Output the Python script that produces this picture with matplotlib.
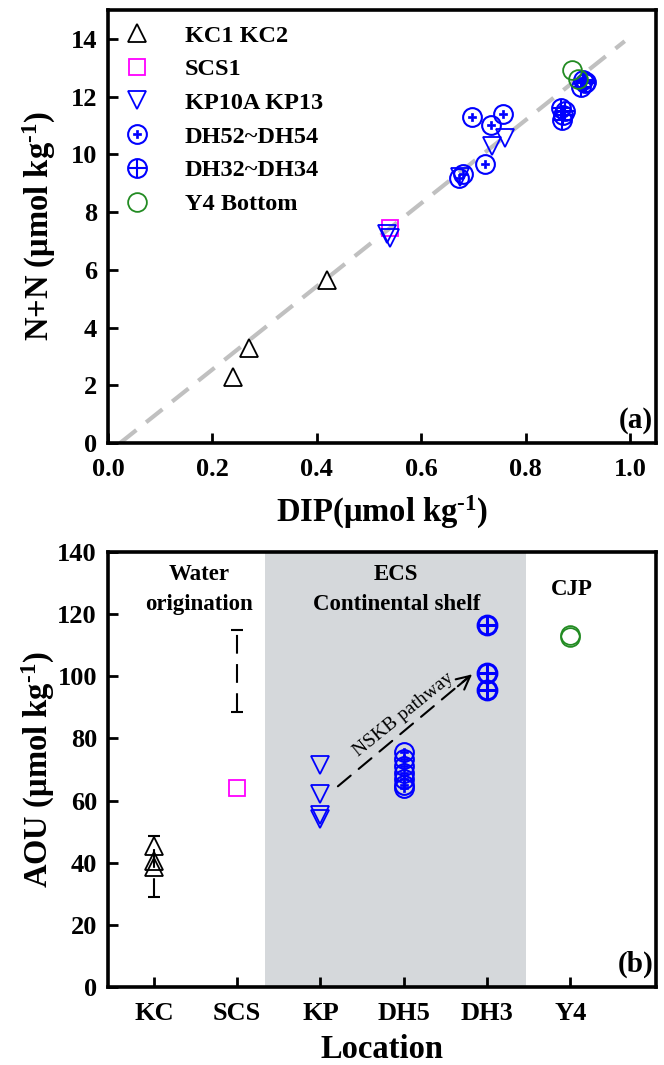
import matplotlib
matplotlib.use('Agg')
import matplotlib.pyplot as plt
from matplotlib.legend_handler import HandlerTuple

plt.rcParams['font.family'] = ['Liberation Serif', 'DejaVu Serif']
plt.rcParams['font.weight'] = 'bold'
plt.rcParams['mathtext.fontset'] = 'custom'
plt.rcParams['mathtext.rm'] = 'Liberation Serif:bold'
plt.rcParams['mathtext.bf'] = 'Liberation Serif:bold'
plt.rcParams['mathtext.default'] = 'bf'

# ---- panel (a) data: DIP vs N+N ----
kc_dip = [0.24, 0.27, 0.42]
kc_nn = [2.3, 3.3, 5.65]
scs_dip = [0.54]
scs_nn = [7.45]
kp_dip = [0.535, 0.54, 0.675, 0.736, 0.76]
kp_nn = [7.25, 7.1, 9.23, 10.29, 10.56]
dh5_dip = [0.698, 0.733, 0.757, 0.722, 0.672, 0.680]
dh5_nn = [11.28, 11.02, 11.39, 9.66, 9.17, 9.32]
dh3_dip = [0.868, 0.871, 0.870, 0.875, 0.910, 0.913, 0.906, 0.915]
dh3_nn = [11.6, 11.37, 11.2, 11.5, 12.58, 12.47, 12.35, 12.5]
y4_dip = [0.889, 0.900]
y4_nn = [12.93, 12.61]
fit_x = [0.023, 0.99]
fit_y = [0.0, 13.92]

# ---- panel (b) data: AOU by location ----
locations = ['KC', 'SCS', 'KP', 'DH5', 'DH3', 'Y4']
loc_pos = [1, 2, 3, 4, 5, 6]
kc_aou = [45.5, 40.5, 38.5]
scs_aou = [64]
kp_aou = [71.5, 62, 55.5, 54]
dh5_aou = [75.5, 73.5, 71, 69, 67, 65, 64]
dh3_aou = [116.5, 101, 95.5]
y4_aou = [113.2, 112.5]
kc_range = [29, 48.5]
scs_range = [88.5, 115]

blue = '#0000ff'
green = '#228b22'
magenta = '#ff00ff'

fig = plt.figure(figsize=(6.64, 10.65), dpi=100)
ax1 = fig.add_axes([0.1627, 0.584, 0.8253, 0.4066])
ax2 = fig.add_axes([0.1627, 0.0732, 0.8253, 0.4085])

def circ_plus(ax, x, y, big, ms=13.5, mew=1.5):
    c, = ax.plot(x, y, 'o', ms=ms, mfc='none', mec=blue, mew=mew, ls='none')
    if big:
        p, = ax.plot(x, y, '+', ms=ms, mec=blue, mew=mew, ls='none')
    else:
        p, = ax.plot(x, y, 'P', ms=ms * 0.45, mfc=blue, mec=blue, mew=0.5, ls='none')
    return (c, p)

unit = r'($\mu$mol kg$^{\text{-1}}$)'

# panel (a)
ax1.plot(fit_x, fit_y, ls=(0, (5, 3)), color='#c0c0c0', lw=3, zorder=1)
h_kc, = ax1.plot(kc_dip, kc_nn, '^', ms=13, mfc='none', mec='k', mew=1.3, ls='none')
h_scs, = ax1.plot(scs_dip, scs_nn, 's', ms=11.5, mfc='none', mec=magenta, mew=1.3, ls='none')
h_kp, = ax1.plot(kp_dip, kp_nn, 'v', ms=13, mfc='none', mec=blue, mew=1.3, ls='none')
h_dh5 = circ_plus(ax1, dh5_dip, dh5_nn, big=False)
h_dh3 = circ_plus(ax1, dh3_dip, dh3_nn, big=True)
h_y4, = ax1.plot(y4_dip, y4_nn, 'o', ms=13.5, mfc='none', mec=green, mew=1.3, ls='none')

ax1.set_xlim(0, 1.05)
ax1.set_ylim(0, 15)
ax1.set_xticks([0.0, 0.2, 0.4, 0.6, 0.8, 1.0])
ax1.set_xticklabels(['0.0', '0.2', '0.4', '0.6', '0.8', '1.0'])
ax1.set_yticks(range(0, 15, 2))
ax1.set_xlabel('DIP' + unit, fontsize=23.5, fontweight='bold', labelpad=9)
ax1.set_ylabel('N+N ' + unit, fontsize=23.5, fontweight='bold', labelpad=9)
ax1.text(0.995, 0.02, '(a)', transform=ax1.transAxes, ha='right', va='bottom',
         fontsize=21, fontweight='bold')
leg = ax1.legend([h_kc, h_scs, h_kp, h_dh5, h_dh3, h_y4],
                 ['KC1 KC2', 'SCS1', 'KP10A KP13', 'DH52~DH54', 'DH32~DH34', 'Y4 Bottom'],
                 handler_map={tuple: HandlerTuple(ndivide=1)},
                 loc='upper left', frameon=False, handlelength=1.2,
                 handletextpad=1.35, labelspacing=0.48, borderaxespad=0.2,
                 borderpad=0.4, prop={'weight': 'bold', 'size': 17.5})

# panel (b)
ax2.axvspan(2.34, 5.47, color='#d5d8db', lw=0, zorder=0)
for rng, xp in [(kc_range, loc_pos[0]), (scs_range, loc_pos[1])]:
    mid = (rng[0] + rng[1]) / 2
    err = (rng[1] - rng[0]) / 2
    eb = ax2.errorbar([xp], [mid], yerr=[err], fmt='none', ecolor='k',
                      elinewidth=1.5, capsize=4, capthick=1.5)
    eb[2][0].set_linestyle((0, (9, 5)))
ax2.plot([loc_pos[0]] * len(kc_aou), kc_aou, '^', ms=13, mfc='none', mec='k', mew=1.3, ls='none')
ax2.plot([loc_pos[1]] * len(scs_aou), scs_aou, 's', ms=11.5, mfc='none', mec=magenta, mew=1.3, ls='none')
ax2.plot([loc_pos[2]] * len(kp_aou), kp_aou, 'v', ms=13, mfc='none', mec=blue, mew=1.3, ls='none')
circ_plus(ax2, [loc_pos[3]] * len(dh5_aou), dh5_aou, big=False)
circ_plus(ax2, [loc_pos[4]] * len(dh3_aou), dh3_aou, big=True, mew=2.2)
ax2.plot([loc_pos[5]] * len(y4_aou), y4_aou, 'o', ms=13.5, mfc='none', mec=green, mew=1.3, ls='none')

# NSKB pathway arrow: dashed shaft + solid open head
ax2.annotate('', xy=(4.80, 100.2), xytext=(3.21, 64.6),
             arrowprops=dict(arrowstyle='-', color='k', lw=1.5, ls=(0, (8, 5)),
                             shrinkA=0, shrinkB=0))
ax2.annotate('', xy=(4.82, 100.6), xytext=(4.65, 96.8),
             arrowprops=dict(arrowstyle='->', color='k', lw=1.5,
                             mutation_scale=24, shrinkA=0, shrinkB=0))
ax2.text(4.0, 87.7, 'NSKB pathway', rotation=39, ha='center', va='center',
         fontsize=14, fontweight='normal')
ax2.text(1.54, 128, 'Water\norigination', ha='center', va='center', fontsize=16.5,
         fontweight='bold', linespacing=1.55)
ax2.text(3.91, 128, 'ECS\nContinental shelf', ha='center', va='center', fontsize=16.5,
         fontweight='bold', linespacing=1.55)
ax2.text(6.02, 128, 'CJP', ha='center', va='center', fontsize=16.5, fontweight='bold')
ax2.text(0.995, 0.02, '(b)', transform=ax2.transAxes, ha='right', va='bottom',
         fontsize=21, fontweight='bold')

ax2.set_xlim(0.45, 7.03)
ax2.set_ylim(0, 140)
ax2.set_xticks(loc_pos)
ax2.set_xticklabels(locations)
ax2.set_yticks(range(0, 141, 20))
ax2.set_xlabel('Location', fontsize=23.5, fontweight='bold', labelpad=6)
ax2.set_ylabel('AOU ' + unit, fontsize=23.5, fontweight='bold', labelpad=0)

for ax in (ax1, ax2):
    for s in ax.spines.values():
        s.set_linewidth(2.6)
    ax.tick_params(direction='in', length=7, width=2, labelsize=19, pad=8)
    ax.tick_params(axis='x', pad=11)
    for lab in ax.get_xticklabels() + ax.get_yticklabels():
        lab.set_fontweight('bold')

fig.savefig('out.png', dpi=100)
